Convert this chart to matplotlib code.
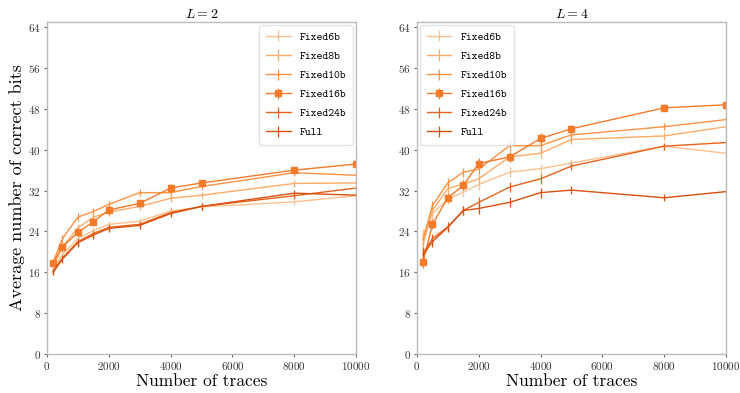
import numpy as np
import matplotlib
matplotlib.use('Agg')
import matplotlib.pyplot as plt

plt.rcParams['font.family'] = 'serif'
plt.rcParams['font.serif'] = ['cmr10', 'DejaVu Serif']
plt.rcParams['mathtext.fontset'] = 'cm'
plt.rcParams['axes.formatter.use_mathtext'] = True

traces = [200, 500, 1000, 1500, 2000, 3000, 4000, 5000, 8000, 10000]
labels = ['Fixed6b', 'Fixed8b', 'Fixed10b', 'Fixed16b', 'Fixed24b', 'Full']
colors = ['#fdc08e', '#fdab67', '#fd9243', '#f57a2a', '#e8621a', '#d9500e']

# L = 2
l2_fixed6 = [16.8, 19.5, 22.6, 24.2, 25.4, 26.0, 28.0, 28.8, 29.8, 31.0]
l2_fixed8 = [17.2, 21.0, 24.7, 26.8, 27.8, 28.9, 30.5, 31.1, 33.4, 33.5]
l2_fixed10 = [18.0, 22.6, 26.8, 27.9, 29.3, 31.6, 31.6, 32.8, 35.5, 35.0]
l2_fixed16 = [17.9, 21.0, 23.8, 25.9, 28.2, 29.5, 32.5, 33.5, 36.0, 37.2]
l2_fixed24 = [16.2, 18.8, 22.0, 23.6, 24.8, 25.4, 27.7, 28.9, 31.0, 32.5]
l2_full = [16.0, 18.6, 21.8, 23.3, 24.6, 25.2, 27.5, 28.9, 31.5, 31.1]

# L = 4
l4_fixed6 = [23.3, 27.5, 30.3, 31.7, 33.2, 35.6, 36.3, 37.4, 40.7, 39.3]
l4_fixed8 = [21.5, 28.1, 32.4, 33.3, 34.3, 38.6, 39.3, 42.0, 42.7, 44.5]
l4_fixed10 = [22.5, 29.0, 33.5, 35.6, 36.2, 40.8, 40.8, 42.9, 44.5, 45.9]
l4_fixed16 = [18.0, 25.4, 30.6, 33.0, 37.3, 38.6, 42.2, 44.1, 48.2, 48.8]
l4_fixed24 = [19.7, 22.6, 24.9, 28.1, 29.7, 32.7, 34.3, 36.8, 40.7, 41.4]
l4_full = [19.4, 22.0, 24.8, 28.1, 28.5, 29.7, 31.6, 32.1, 30.6, 31.8]

# error bar half widths
err_l2 = [0.6, 0.8, 0.8, 0.7, 0.7, 0.7, 0.7, 0.6, 0.6, 0.6]
err_l4 = [1.2, 1.0, 0.9, 0.9, 1.0, 1.0, 1.0, 0.8, 0.7, 0.6]

panels = [
    ('$L=2$', [l2_fixed6, l2_fixed8, l2_fixed10, l2_fixed16, l2_fixed24, l2_full], err_l2, 'upper right'),
    ('$L=4$', [l4_fixed6, l4_fixed8, l4_fixed10, l4_fixed16, l4_fixed24, l4_full], err_l4, 'upper left'),
]

fig, axes = plt.subplots(1, 2, figsize=(7.4, 3.93), dpi=100)
fig.subplots_adjust(left=0.0635, right=0.981, top=0.944, bottom=0.099, wspace=0.197)

for ax, (title, series, err, loc) in zip(axes, panels):
    for lab, vals, c in zip(labels, series, colors):
        ax.errorbar(traces, vals, yerr=err, color=c, lw=1.0, elinewidth=0.9,
                    marker='s' if lab == 'Fixed16b' else None, ms=4.5,
                    label=lab)
    ax.set_xlim(0, 10000)
    ax.set_ylim(0, 65)
    ax.set_yticks(np.arange(0, 65, 8))
    ax.set_xticks(np.arange(0, 10001, 2000))
    ax.tick_params(labelsize=8, length=2.5, color='#666666', labelcolor='#333333', pad=2)
    ax.set_title(title, fontsize=10, pad=3)
    ax.set_xlabel('Number of traces', fontsize=12.5, labelpad=1)
    for sp in ax.spines.values():
        sp.set_color('#bbbbbb')
        sp.set_linewidth(1.0)
    ax.legend(loc=loc, prop={'family': 'cmtt10', 'size': 8},
              handlelength=2.2, borderpad=0.6, labelspacing=0.75,
              borderaxespad=0.3, edgecolor='#dddddd')

axes[0].set_ylabel('Average number of correct bits', fontsize=13, labelpad=2)

fig.savefig('out.png', dpi=100)
